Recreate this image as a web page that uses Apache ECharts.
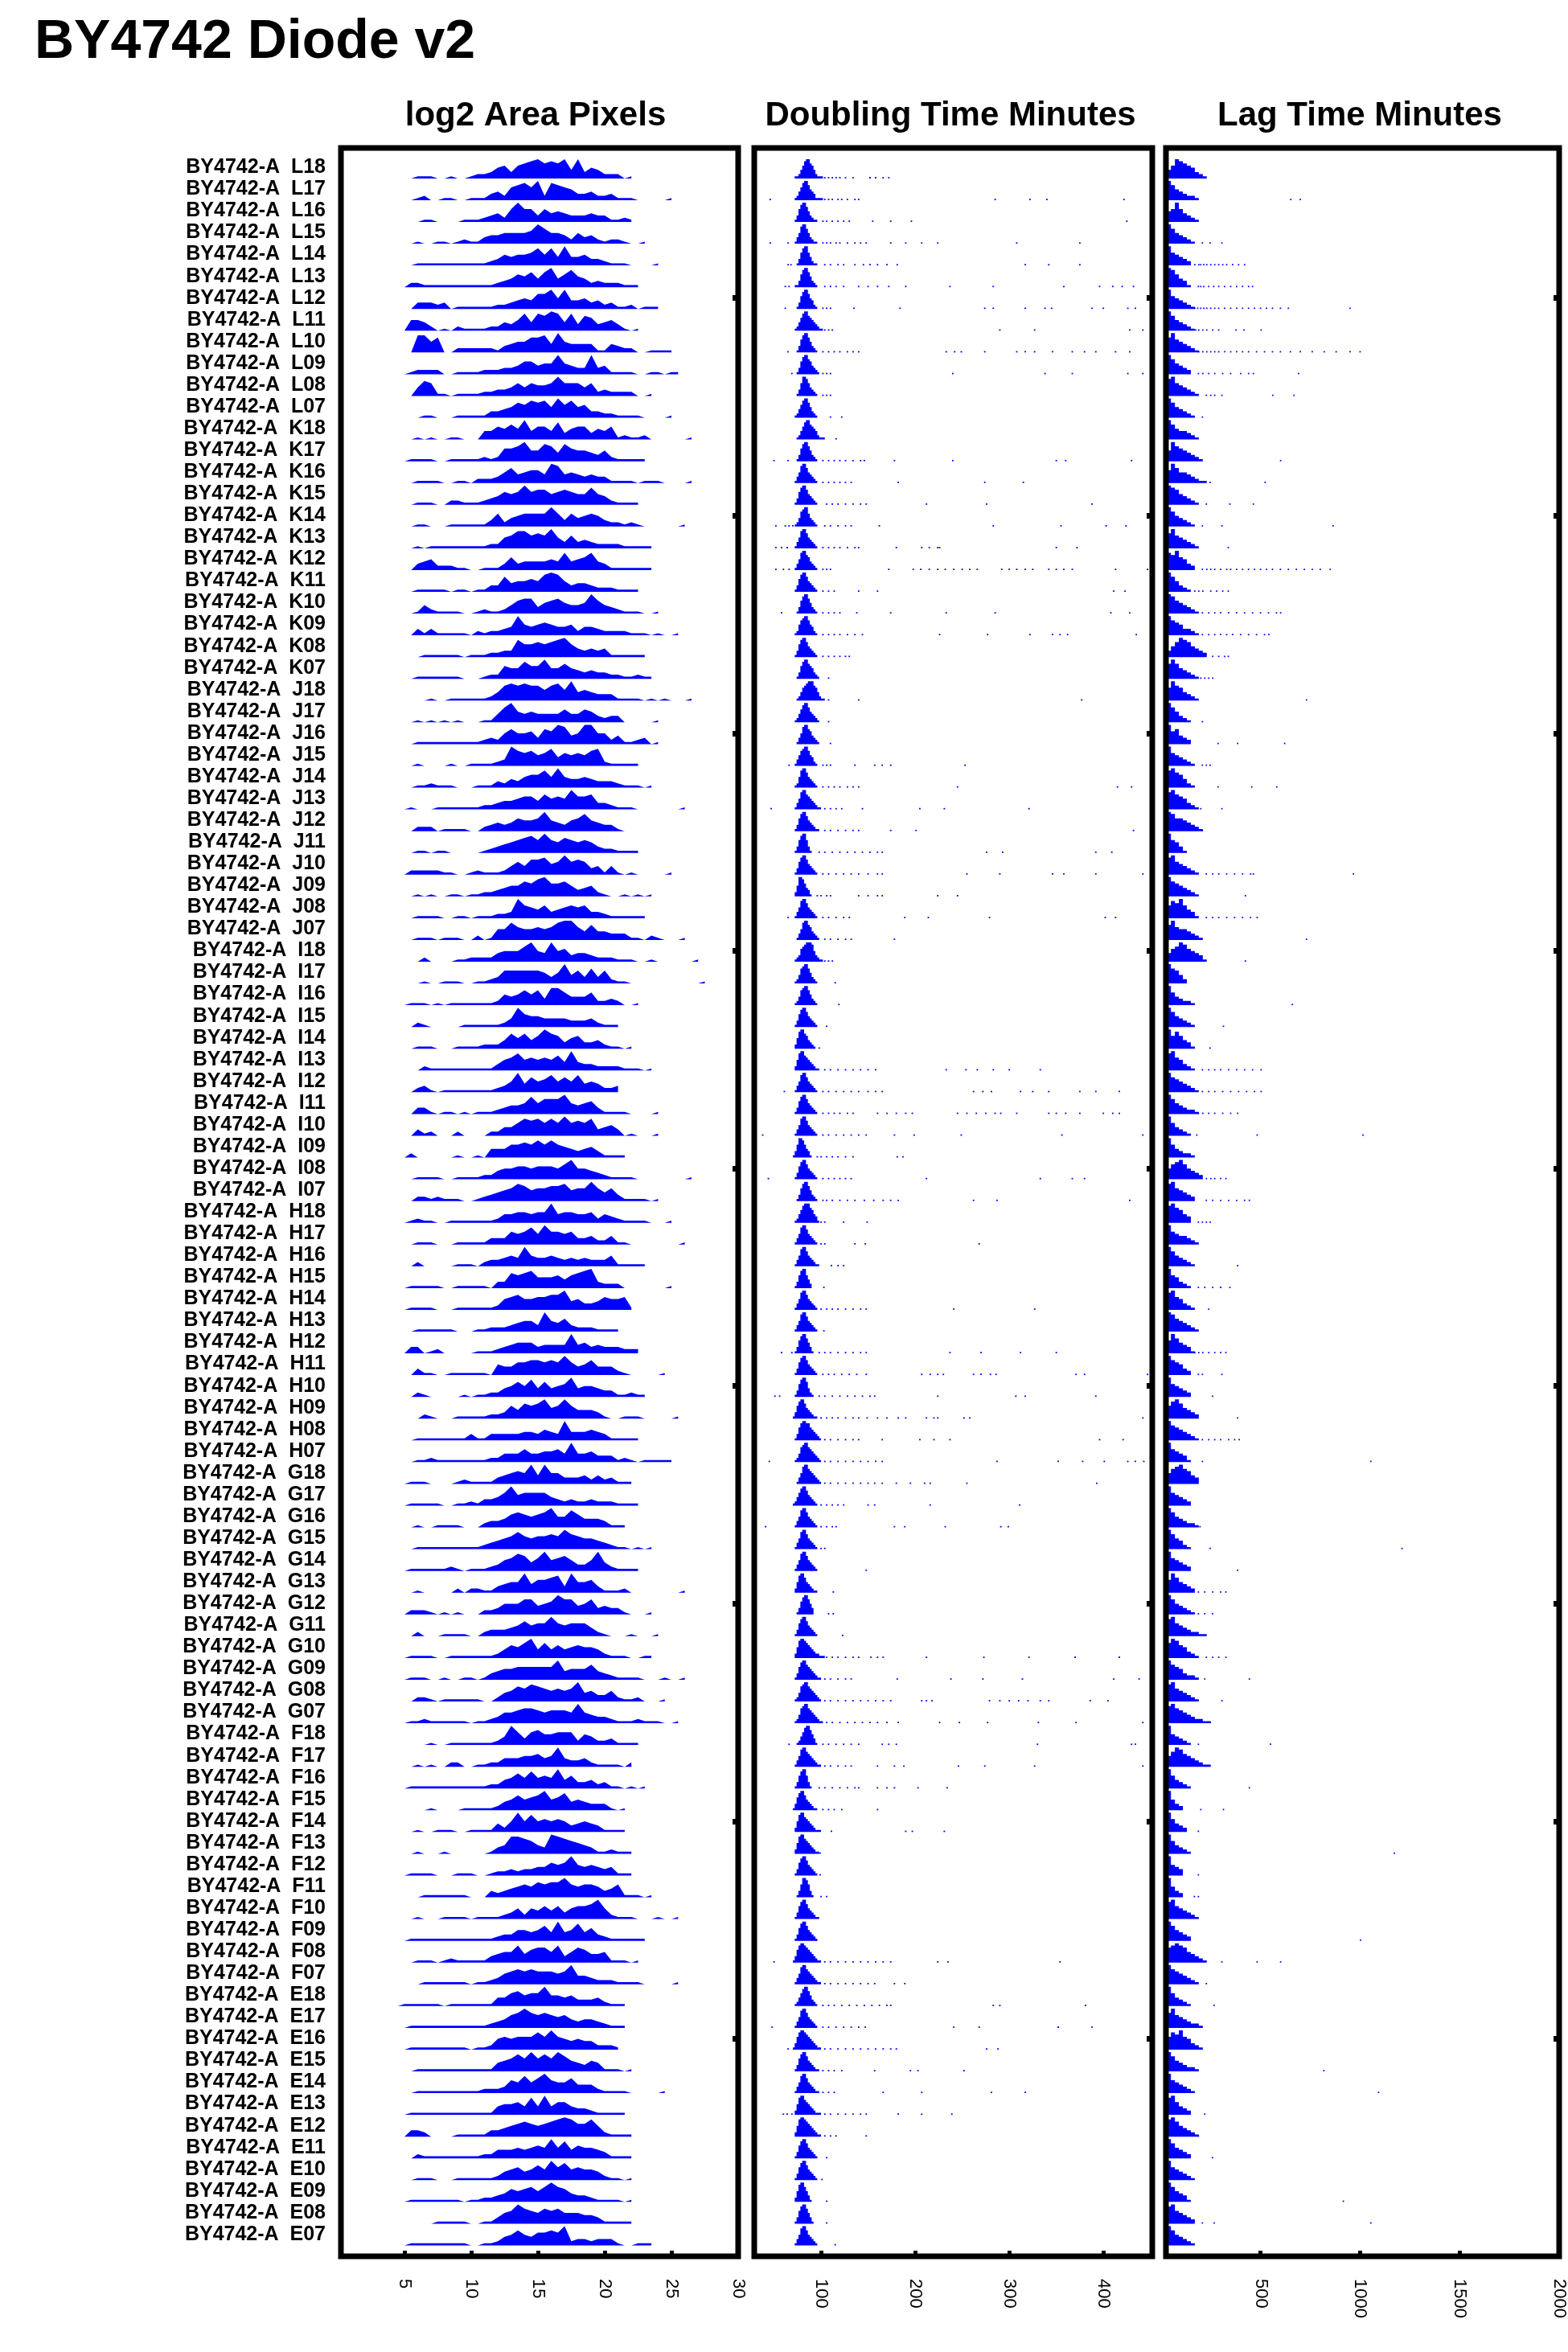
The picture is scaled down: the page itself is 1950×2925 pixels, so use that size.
<!DOCTYPE html>
<html><head><meta charset="utf-8">
<script src="https://cdn.jsdelivr.net/npm/echarts@6/dist/echarts.min.js"></script>
<style>html,body{margin:0;padding:0;background:#fff}#c{width:1950px;height:2925px}</style>
</head><body><div id="c"></div>
<script>
const chartTitle = 'BY4742 Diode v2';
const panelTitles = ['log2 Area Pixels', 'Doubling Time Minutes', 'Lag Time Minutes'];
const rowLabels = [
'BY4742-A  L18','BY4742-A  L17','BY4742-A  L16','BY4742-A  L15','BY4742-A  L14','BY4742-A  L13','BY4742-A  L12','BY4742-A  L11','BY4742-A  L10','BY4742-A  L09','BY4742-A  L08','BY4742-A  L07',
'BY4742-A  K18','BY4742-A  K17','BY4742-A  K16','BY4742-A  K15','BY4742-A  K14','BY4742-A  K13','BY4742-A  K12','BY4742-A  K11','BY4742-A  K10','BY4742-A  K09','BY4742-A  K08','BY4742-A  K07',
'BY4742-A  J18','BY4742-A  J17','BY4742-A  J16','BY4742-A  J15','BY4742-A  J14','BY4742-A  J13','BY4742-A  J12','BY4742-A  J11','BY4742-A  J10','BY4742-A  J09','BY4742-A  J08','BY4742-A  J07',
'BY4742-A  I18','BY4742-A  I17','BY4742-A  I16','BY4742-A  I15','BY4742-A  I14','BY4742-A  I13','BY4742-A  I12','BY4742-A  I11','BY4742-A  I10','BY4742-A  I09','BY4742-A  I08','BY4742-A  I07',
'BY4742-A  H18','BY4742-A  H17','BY4742-A  H16','BY4742-A  H15','BY4742-A  H14','BY4742-A  H13','BY4742-A  H12','BY4742-A  H11','BY4742-A  H10','BY4742-A  H09','BY4742-A  H08','BY4742-A  H07',
'BY4742-A  G18','BY4742-A  G17','BY4742-A  G16','BY4742-A  G15','BY4742-A  G14','BY4742-A  G13','BY4742-A  G12','BY4742-A  G11','BY4742-A  G10','BY4742-A  G09','BY4742-A  G08','BY4742-A  G07',
'BY4742-A  F18','BY4742-A  F17','BY4742-A  F16','BY4742-A  F15','BY4742-A  F14','BY4742-A  F13','BY4742-A  F12','BY4742-A  F11','BY4742-A  F10','BY4742-A  F09','BY4742-A  F08','BY4742-A  F07',
'BY4742-A  E18','BY4742-A  E17','BY4742-A  E16','BY4742-A  E15','BY4742-A  E14','BY4742-A  E13','BY4742-A  E12','BY4742-A  E11','BY4742-A  E10','BY4742-A  E09','BY4742-A  E08','BY4742-A  E07'];

const log2Ticks = [5, 10, 15, 20, 25, 30];
const dblTicks = [100, 200, 300, 400];
const lagTicks = [500, 1000, 1500, 2000];
const rowTicks = [10, 20, 30, 40, 50, 60, 70, 80, 90];

// log2 area histograms: relative height level (0-9) per 0.5 bin starting at 4.0
const log2Start = 4, log2Step = 0.5;
const log2Area = [
"0000111001 0012235636 7897879493 5422201",
"0000120011 0011134267 8692876533 4223111000 001",
"0000011000 0111234269 6636454333 4331121",
"0000100110 1211344555 5697554253 421221001",
"0000111111 1111123545 5685849445 33211100001",
"0002211111 1111112346 5747946854 23222111",
"0000333230 1111112234 5477959445 34231120111",
"0005542010 2111122435 8487984837 63453101",
"0000885700 2222221345 5778495444 4114322001111",
"0001222200 1111222334 6645595433 93411110011011",
"0000476110 1111223346 4655696664 6232222001",
"0000011000 1111133457 6878596856 3322111100001",
"0000101001 1000446575 9466483566 3546121120000001",
"0001111001 1111212667 9558748655 435211111",
"0000111100 1102223574 5664984543 4331111011100001",
"0000111002 2111234656 9677567655 85421111",
"0000110001 1111136245 6666963645 653221210000001",
"0000101111 1111122568 8676953634 3222211111",
"0000345222 1100111363 4444548456 8431111111",
"0000111110 1101133745 5658985344 32221111",
"0000142111 1001211246 7735675445 96432111001",
"0000313111 1102122349 5456544524 43222211101001",
"0000011111 1011122338 6676789643 434111111",
"0000111111 1000122655 8669557543 4332211211",
"0000001001 1111124787 8775785945 4333111101010001",
"0000101010 1000114795 4544446446 53233000001",
"0000111111 1111232575 5637698459 95524112301",
"0000100001 0011112397 6756846565 78211111",
"0000112111 0001113243 5668595445 4333211101",
"0001000111 1111223445 6647565966 733211100000001",
"0000222011 1100234346 5569543568 543310",
"0000110110 0000123456 7869657656 53221111",
"0002222211 0012111246 4778569676 3414101000001",
"0000101001 1011223455 7689667534 5210010101",
"0000111100 1101112239 6546345656 332111111",
"0000111011 1002015586 5565689964 744333110210001",
"0000020000 1122224555 7954956344 32221110010000001",
"0000010011 1001123666 6665359463 736211000000000001",
"0001110101 1111112545 7573886444 62232001",
"0000210000 0111111249 6554444333 42111",
"0000111000 1111222475 7469763563 3421101",
"0000021111 1111113568 5656574943 3222211101",
"0000231011 1111112359 4756857584 54223",
"0000331011 0101112344 5857779545 63111100001",
"0000312000 2000022446 8786869676 83453010001",
"0002000000 1001044466 7686865434 531111",
"0000111100 1111224556 6566657955 4321111000000001",
"0000221211 1001234568 7566778566 96463111101",
"0001211001 1111112445 5455945544 5243211110001",
"0000111000 1111133365 6859665633 422411000000001",
"0000200000 1110233454 9544543434 333511111",
"0001111100 1111103376 7855564678 9322200000001",
"0001111000 1111112567 5566779453 3465561",
"0000111111 0001122234 5539546322 21111",
"0003301200 0001112345 5534444945 34333222",
"0000311001 1111105446 6776769645 744421000001",
"0000210000 0101122457 5847456945 543311211",
"0000021000 1111122364 7679569644 43100111000001",
"0000111111 1131133333 4435439444 54311111",
"0000112111 1111122444 6445564944 5333121011111",
"0001110000 1211113456 5949553334 2423111",
"0001111100 1121334695 6666432322 32221111",
"0000100111 1000233467 6567955864 443111",
"0000111111 1111234568 6566769765 5432110101",
"0001111112 1011123568 7469567533 59421111",
"0000100000 2022113455 9466783955 631112000000001",
"0002221010 1000223555 7745697745 7343310001",
"0000200011 1100233345 7566965666 42100010001",
"0001111001 1111112465 7947464565 5421110011",
"0001110010 0110134556 6666694555 743211110001001",
"0000221011 1111002457 6876565694 533521120001",
"0001121111 1101123556 7765666595 43321112111001",
"0000001001 1111112496 3675566625 42231111",
"0000101002 2001122444 5564594334 2111102",
"0001111111 1111122457 5856594633 423110101",
"0000001000 0111112457 5679568454 333101",
"0000100111 0011114259 5856565345 431111",
"0000100010 0000013488 7643987654 3112111",
"0001111000 1110012232 3344656954 5434111",
"0000011111 1100032345 6576779656 6534611101",
"0000100011 1101111235 2546463566 79521110001001",
"0001111111 1111112335 5457494584 632111111",
"0000111012 1111134558 4677583576 44511101",
"0000011111 1101123567 6766656944 32221111000001",
"0011111101 1111114467 5669554533 342111",
"0001111111 1111123467 9767656434 432111",
"0001111111 1101125656 6686965454 42221",
"0000111111 1111114568 6968697543 5411101",
"0000111111 1111222365 8579655744 421111000001",
"0001111111 1111114556 4849466433 211111",
"0003320000 1111133456 7656789866 8521111",
"0000211111 1111224445 4565958465 5431111",
"0000111000 1111112456 4575968565 5421101",
"0001111111 1011223465 6757976433 2111101",
"0000000111 1100113569 7657675554 4311111",
"0001111111 1100112457 5466769233 2333100111"];

// doubling time: main peak levels per 2-minute bin from 70, plus isolated observations (minutes)
const dblStart = 70, dblStep = 2;
const dblPeak = [
"0112468997642111","0124689975431111","0136899753211","0135899753211","0013689964211","0113689975321",
"0013689975421","0124689976543211","0013689975321","00136899764321","0013699864321","0124689975321",
"00124689976542111","0013689975321","0135899754321","0136899754321","0124789964321","0135899754321",
"0135899764321","0136899754321","0013689975321","0125789975421","0136899754321","00136899765321",
"00124678999764211","01246899754321","00135899764321","0135789975421","0125899754321","013589976543211",
"01368997543211","0136899631","0136899754321","0259986431","0135899754321","00135899764321",
"0123678999853211","0124789975321","0124789975321","0136899754321","025899764321","02589976543211",
"0135899754321","0136899754321","0135899754321","1369986431","0136899754321","0013689975321",
"01246899976431","0135899754321","01358997543211","0136899642","0135899754321","0135899754321",
"01368997531","0136899754321","01368997421","1368997543211","013689988654321","012478997654321",
"001358997654321","1246899754321","0135899754321","0135899754321","0135899754321","0258997543211",
"00136899753","0136899754321","02589987654322111","013689976543211","012478997654321","0124789976543211",
"0012468997531","013589976543211","0136899631","1368997543211","025899765432111","02589976543211",
"0136899754321","00136998631","01368997543211","0136899754321","136899876543211","013589976543211",
"0124689975321","0135899754321","136899876543211","01368997543211","01358997543211","025899765432111",
"025899876543211","0136899754321","0136899754321","0258997531","01368997531","0135899754321"];
const dblDots = [
[104,108,112,116,120,126,134,152,158,166,172],
[46,104,108,112,118,122,128,136,140,285,322,340,422],
[102,106,112,118,124,130,155,174,196,425],
[46,65,102,106,110,116,120,128,136,142,148,174,190,207,224,308,375],
[65,68,104,110,118,124,136,145,152,160,170,181,317,342,375],
[62,66,104,110,116,124,140,150,160,172,190,237,283,358,396,410,420,432],
[62,102,106,110,135,184,274,283,317,338,345,388,400,426,434],
[104,108,112,290,327,428,442],
[65,102,108,114,120,128,134,140,233,242,249,274,308,317,327,346,367,380,392,413,428],
[69,102,106,110,240,338,367,426,442],
[102,106,110],
[110,122],
[116],
[50,65,102,108,114,120,126,134,142,146,178,240,350,360,430],
[102,108,114,120,126,132,182,274,315],
[106,112,118,126,134,142,148,212,276,388],
[52,62,66,70,104,110,118,126,132,162,283,355,403,424],
[52,58,64,102,108,114,120,128,136,140,180,207,215,224,226,350,372],
[52,60,66,102,106,110,172,198,206,215,224,232,241,250,258,266,292,300,308,317,325,342,350,358,367,413,447],
[102,108,114,140,160,411,423],
[58,102,108,114,120,138,174,233,285,408,428],
[102,108,114,120,128,136,144,226,277,322,346,354,362,435],
[102,108,114,120,126,130],
[108],
[108,140,377],
[108],
[110],
[66,102,106,110,136,157,165,174,253],
[102,108,114,120,128,134,140,245,415,430],
[47,104,110,116,122,144,205,231,321],
[104,110,118,126,134,140,174,201,432],
[98,104,112,120,128,136,144,152,160,165,276,293,392,409],
[102,108,116,124,132,140,150,160,165,255,290,346,358,392,442],
[96,100,106,110,140,150,160,165,224,245],
[65,102,108,116,124,130,189,214,279,402,413],
[104,110,118,126,132,178],
[100,104,108,112],
[115],
[119],
[106],
[98],
[104,110,118,126,134,142,150,158,233,254,266,283,300,333],
[61,102,108,116,124,132,140,150,158,165,262,272,281,312,325,342,375,392,417],
[102,108,114,120,128,134,160,170,180,190,197,245,255,265,275,285,291,308,342,350,360,375,400,410,417],
[38,102,108,116,124,132,140,148,178,199,249,356,442],
[96,100,106,112,118,126,134,181,187],
[44,102,108,114,120,126,132,212,333,367,380],
[102,106,112,120,128,136,146,156,166,174,182,262,287,428],
[100,104,124,149],
[100,104,136,147,268],
[111,118,124],
[103],
[100,106,112,118,126,134,142,148,241,327],
[103],
[58,69,98,104,110,118,126,134,142,148,237,270,312,350],
[102,108,114,122,130,138,148,207,216,224,230,262,270,280,286,371,380,447],
[51,56,98,104,112,120,128,136,144,152,157,224,307,317,392],
[100,106,112,118,126,134,140,149,160,170,182,190,212,220,224,252,258,442],
[104,110,118,126,134,140,165,205,220,237,396,421],
[45,104,110,118,126,134,142,150,158,165,287,352,378,401,426,434,443],
[104,110,118,126,134,142,150,157,165,180,195,210,216,255,393],
[100,106,112,118,124,150,157,216,311],
[41,100,106,112,116,178,189,232,291,299],
[100,104],
[148],
[113],
[108,113],
[123],
[106,112,118,126,134,140,153,160,166,212,273,321,370,417],
[104,110,118,126,132,181,238,272,314,411,438],
[104,110,118,126,134,142,150,158,166,174,207,212,218,279,290,300,310,320,333,342,386,405],
[106,112,120,128,136,144,152,160,170,182,226,247,277,331,371,442],
[66,102,108,116,124,132,140,165,172,180,330,430,434],
[104,110,118,126,132,160,178,188,246,274,327,442],
[98,104,112,120,128,136,140,160,170,178,203,234],
[102,108,114,122,160],
[111,190,197,231],
[99],
[99],
[100,106],
[],
[95],
[50,104,110,118,126,134,142,150,158,166,174,224,235,354],
[104,110,118,126,134,142,150,157,178,189],
[102,108,114,122,130,138,146,154,162,170,174,283,290,381],
[48,102,108,116,124,132,140,147,241,268,352,388],
[65,104,110,118,126,134,142,150,158,166,174,180,276,288],
[102,108,114,122,157,195,203,252],
[102,108,114,166,207,281,317],
[60,64,69,104,110,118,126,134,142,148,182,207,239],
[104,110,116,148],
[106],
[101],
[106],
[106],
[115]];

// lag time: main peak levels per 20-minute bin from 30, plus isolated observations (minutes)
const lagStart = 30, lagStep = 20;
const lagPeak = [
"4698765321","97543221","56964321","9754321","965432","986431",
"9654321","9754321","79654321","975432","89654321","9754321",
"97544321","597654321","6975543211","98754321","9754321","79654321",
"8796532","975321","98654321","97653321","3579875432","79754321",
"69764321","975321","967432","9654321","8976421","89765321",
"986654321","96531","89654321","97654321","68796431","796554321",
"4679865431","97642","9643221","9754321","9686431","8965321",
"97654321","97543221","964321","9643221","578975432","8965432",
"897643","96544321","9754321","965321","8965321","98654321",
"6975431","976532","965432","68975432","97654321","965431",
"57897643","965432","97543221","975421","965432","6975432",
"9754321","8965432211","79865321","97653221","89654321","89765432211",
"954321","57986543211","964321","9532","96432","964321",
"9543","9532","89654321","975432","7898754321","97654321",
"964321","796543221","687965321","97543221","9654321","896432",
"89754321","975432","9654321","975431","8965432","9754321"];
const lagDots = [
[],
[652,700],
[],
[208,247,306],
[170,190,200,215,230,250,270,290,310,330,360,390,420],
[188,200,215,240,265,290,320,350,380,410,440,460],
[170,185,200,215,230,250,270,290,320,350,380,410,440,470,500,530,560,600,640,950],
[175,190,210,230,260,290,377,417,503],
[190,210,230,250,270,290,320,350,380,410,440,480,520,560,600,650,700,760,820,880,950,1000],
[188,210,240,270,310,350,400,440,464,692],
[228,250,270,306,562,668],
[208],
[],
[601],
[247,523],
[228,346,464],
[208,306,865],
[338],
[208,230,250,270,300,330,350,380,410,440,470,500,530,560,600,640,680,720,760,800,850],
[170,190,210,250,280,310,338],
[208,240,270,300,340,380,420,460,500,540,580,601],
[208,240,270,300,330,360,400,440,480,520,542],
[260,290,320,338],
[200,220,240,260],
[731],
[208],
[287,385,621],
[208,228,247],
[287,456,582],
[200,306],
[208],
[],
[228,260,290,330,370,410,450,464,967],
[424],
[228,260,290,330,370,410,450,483],
[731],
[424],
[],
[660],
[314],
[247],
[208,240,270,300,340,380,420,460,503],
[208,240,270,310,350,390,430,470,503],
[188,210,240,270,310,350,385],
[180,483,1015],
[],
[228,250,270,300,326],
[228,260,300,340,380,420,444],
[188,208,228,247],
[],
[385],
[188,220,260,300,346],
[240],
[],
[170,190,210,240,270,300,326],
[188,208,306],
[259],
[385],
[208,240,270,300,340,370,393],
[208,1054],
[],
[],
[196],
[247,1211],
[385],
[188,220,260,300,326],
[188,220,259],
[],
[228,260,290,326],
[220,444],
[306],
[247],
[188,550],
[228],
[444],
[200,314],
[188],
[1172],
[188],
[168,188],
[],
[1002],
[306,483,601],
[228],
[267],
[],
[],
[818],
[1093],
[220],
[188],
[259],
[],
[916],
[208,267,1054],
[]];

const rowCount = rowLabels.length;
const LEVEL = 0.0985;
const DOT_H = 0.065;
const BLUE = '#0000ff';
const FONT = '"Liberation Sans", Arial, Helvetica, sans-serif';
const rowValues = rowLabels.map((_, i) => rowCount - i);

function log2Item(params, api) {
  const i = params.dataIndex;
  const s = log2Area[i].replace(/ /g, '');
  const base = rowCount - i - 0.5;
  const pts = [api.coord([log2Start, base])];
  for (let k = 0; k < s.length; k++) {
    pts.push(api.coord([log2Start + k * log2Step, base + (+s[k]) * LEVEL]));
  }
  pts.push(api.coord([log2Start + (s.length - 1) * log2Step, base]));
  return { type: 'polygon', shape: { points: pts }, style: { fill: BLUE } };
}

function stepItem(start, step, peaks, dots, dotHalf) {
  return function (params, api) {
    const i = params.dataIndex;
    const s = peaks[i];
    const base = rowCount - i - 0.5;
    const pts = [api.coord([start, base])];
    for (let k = 0; k < s.length; k++) {
      const y = base + (+s[k]) * LEVEL;
      pts.push(api.coord([start + k * step, y]));
      pts.push(api.coord([start + (k + 1) * step, y]));
    }
    pts.push(api.coord([start + s.length * step, base]));
    const children = [{ type: 'polygon', shape: { points: pts }, style: { fill: BLUE } }];
    for (const v of dots[i]) {
      const a = api.coord([v - dotHalf, base + DOT_H]);
      const b = api.coord([v + dotHalf, base]);
      children.push({ type: 'rect', shape: { x: a[0], y: a[1], width: b[0] - a[0], height: b[1] - a[1] }, style: { fill: BLUE } });
    }
    return { type: 'group', children: children };
  };
}

const gridBase = { top: 184, height: 2622, show: true, borderColor: '#000', borderWidth: 7, backgroundColor: 'transparent', z: 5 };
function xAx(idx, min, max, ticks) {
  return {
    gridIndex: idx, type: 'value', min: min, max: max,
    axisLine: { show: false }, splitLine: { show: false },
    axisTick: { show: true, inside: true, length: 7, lineStyle: { width: 5, color: '#000' }, customValues: ticks },
    axisLabel: { customValues: ticks, formatter: v => String(v), rotate: -90, margin: 28, fontSize: 22, color: '#000', fontFamily: FONT }
  };
}
function yTickAx(idx) {
  return {
    gridIndex: idx, type: 'value', min: 0, max: 96.9, position: 'right',
    axisLine: { show: false }, splitLine: { show: false }, axisLabel: { show: false },
    axisTick: { show: true, inside: true, length: 7, lineStyle: { width: 7, color: '#000' }, customValues: rowTicks }
  };
}
function titleText(x, y, text, size, align) {
  return { type: 'text', x: x, y: y, style: { text: text, font: 'bold ' + size + 'px ' + FONT, fill: '#000', align: align, verticalAlign: 'middle', textAlign: align, textVerticalAlign: 'middle' } };
}

const chart = echarts.init(document.getElementById('c'), null, { renderer: 'canvas' });
chart.setOption({
  animation: false,
  backgroundColor: '#fff',
  grid: [
    Object.assign({ left: 424, width: 494 }, gridBase),
    Object.assign({ left: 938, width: 495 }, gridBase),
    Object.assign({ left: 1450, width: 493 }, gridBase)
  ],
  xAxis: [xAx(0, 0.24, 30, log2Ticks), xAx(1, 29, 452, dblTicks), xAx(2, 25, 2000, lagTicks)],
  yAxis: [
    {
      gridIndex: 0, type: 'value', min: 0, max: 96.9, position: 'left',
      axisLine: { show: false }, splitLine: { show: false }, axisTick: { show: false },
      axisLabel: { customValues: rowValues, formatter: v => rowLabels[rowCount - v], fontSize: 25, fontWeight: 'bold', color: '#000', margin: 19, fontFamily: FONT }
    },
    yTickAx(0), yTickAx(1), yTickAx(2)
  ],
  graphic: [
    titleText(43, 53, chartTitle, 68, 'left'),
    titleText(666, 144, panelTitles[0], 42, 'center'),
    titleText(1182, 144, panelTitles[1], 42, 'center'),
    titleText(1691, 144, panelTitles[2], 42, 'center')
  ],
  series: [
    { type: 'custom', xAxisIndex: 0, yAxisIndex: 0, z: 1, renderItem: log2Item, data: rowValues.map(v => [15, v]) },
    { type: 'custom', xAxisIndex: 1, yAxisIndex: 2, z: 1, renderItem: stepItem(dblStart, dblStep, dblPeak, dblDots, 0.8), data: rowValues.map(v => [200, v]) },
    { type: 'custom', xAxisIndex: 2, yAxisIndex: 3, z: 1, renderItem: stepItem(lagStart, lagStep, lagPeak, lagDots, 3.5), data: rowValues.map(v => [1000, v]) }
  ]
});
</script>
</body></html>
